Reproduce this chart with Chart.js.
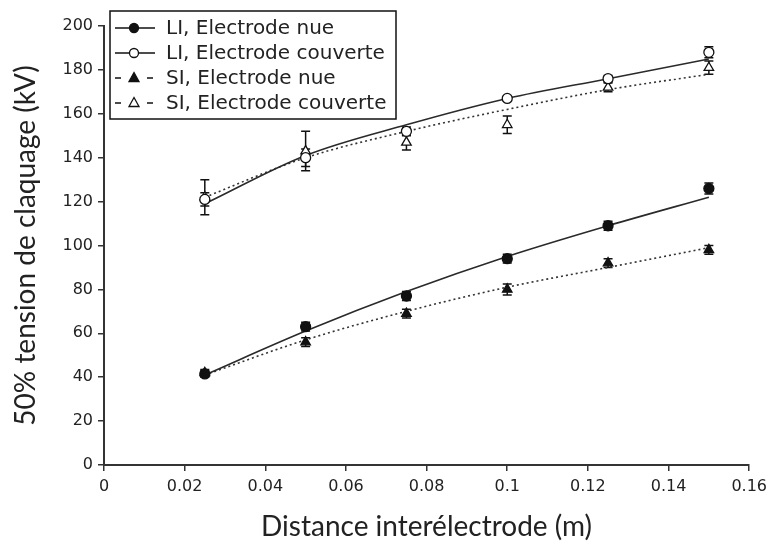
<!DOCTYPE html>
<html>
<head>
<meta charset="utf-8">
<script src="https://cdn.jsdelivr.net/npm/chart.js@4"></script>
<style>
  html, body { margin: 0; padding: 0; background: #fff; }
  #wrap { width: 773px; height: 550px; }
</style>
</head>
<body>
<div id="wrap"><canvas id="claquageChart" width="773" height="550"></canvas></div>
<script>
// Distances (m) and measured 50% breakdown voltages (kV)
const distances = [0.025, 0.05, 0.075, 0.1, 0.125, 0.15];
const liNue = [41.5, 63, 77, 94, 109, 126];
const liCouverte = [121, 140, 152, 167, 176, 188];
const siNue = [42, 56, 69, 80, 92, 98];
const siCouverte = [122, 143, 147, 155, 172, 181];

// Error bar half-heights (kV)
const liNueErr = [1.5, 2, 2, 2, 2, 2.5];
const liCouverteErr = [3, 4, 2, 1, 1.5, 2.5];
const siNueErr = [1.5, 2, 2, 2.5, 2, 2];
const siCouverteErr = [8, 9, 3.5, 4, 2, 3];

// Fitted curves at the same distances
const liNueFit = [41, 61, 79, 95, 109, 122];
const liCouverteFit = [119, 141, 155, 167, 176, 185];
const siNueFit = [41, 57, 70, 81, 90, 99];
const siCouverteFit = [122, 140, 152, 162, 171, 178];

const legendLabels = ['LI, Electrode nue', 'LI, Electrode couverte', 'SI, Electrode nue', 'SI, Electrode couverte'];

const xTicks = [0, 0.02, 0.04, 0.06, 0.08, 0.1, 0.12, 0.14, 0.16];

const ink = '#222';

function toPoints(ys, errs) {
    return distances.map((x, i) => ({ x: x, y: ys[i], err: errs ? errs[i] : 0 }));
}

function markerSet(label, ys, errs, style, filled) {
    return {
        label: label,
        data: toPoints(ys, errs),
        showLine: false,
        pointStyle: style,
        pointRadius: style === 'triangle' ? 5.5 : 5,
        pointBackgroundColor: filled ? '#111' : '#fff',
        pointBorderColor: '#111',
        pointBorderWidth: 1.3,
        order: 0
    };
}

function fitSet(ys, dashed) {
    return {
        label: '',
        data: toPoints(ys),
        showLine: true,
        pointRadius: 0,
        borderColor: dashed ? '#333' : '#2a2a2a',
        borderWidth: 1.6,
        borderDash: dashed ? [2, 3] : [],
        cubicInterpolationMode: 'monotone',
        fill: false,
        order: 1,
        isFit: true
    };
}

// Error bars drawn under the markers
const errorBars = {
    id: 'errorBars',
    beforeDatasetsDraw(chart) {
        const ctx = chart.ctx;
        const xs = chart.scales.x, ys = chart.scales.y;
        ctx.save();
        ctx.strokeStyle = '#111';
        ctx.lineWidth = 1.5;
        chart.data.datasets.forEach(ds => {
            if (ds.isFit) return;
            ds.data.forEach(p => {
                if (!p.err) return;
                const px = xs.getPixelForValue(p.x);
                const top = ys.getPixelForValue(p.y + p.err);
                const bot = ys.getPixelForValue(p.y - p.err);
                ctx.beginPath();
                ctx.moveTo(px, top); ctx.lineTo(px, bot);
                ctx.moveTo(px - 4.5, top); ctx.lineTo(px + 4.5, top);
                ctx.moveTo(px - 4.5, bot); ctx.lineTo(px + 4.5, bot);
                ctx.stroke();
            });
        });
        ctx.restore();
    }
};

// Boxed legend inside the plot, top left
const boxLegend = {
    id: 'boxLegend',
    afterDraw(chart) {
        const ctx = chart.ctx;
        const x0 = 110, y0 = 11, w = 286, h = 108;
        ctx.save();
        ctx.fillStyle = '#fff';
        ctx.fillRect(x0, y0, w, h);
        ctx.strokeStyle = '#111';
        ctx.lineWidth = 1.5;
        ctx.strokeRect(x0, y0, w, h);
        const styles = [
            { shape: 'circle', filled: true, dashed: false },
            { shape: 'circle', filled: false, dashed: false },
            { shape: 'triangle', filled: true, dashed: true },
            { shape: 'triangle', filled: false, dashed: true }
        ];
        legendLabels.forEach((label, i) => {
            const cy = y0 + 17 + i * 25;
            const st = styles[i];
            ctx.strokeStyle = '#111';
            ctx.lineWidth = 1.6;
            ctx.beginPath();
            if (st.dashed) {
                ctx.moveTo(115, cy); ctx.lineTo(121, cy);
                ctx.moveTo(147, cy); ctx.lineTo(153, cy);
            } else {
                ctx.moveTo(115, cy); ctx.lineTo(155, cy);
            }
            ctx.stroke();
            ctx.fillStyle = st.filled ? '#111' : '#fff';
            ctx.lineWidth = 1.3;
            ctx.beginPath();
            if (st.shape === 'circle') {
                ctx.arc(134, cy, 4.5, 0, Math.PI * 2);
            } else {
                ctx.moveTo(134, cy - 5.5);
                ctx.lineTo(139, cy + 3.5);
                ctx.lineTo(129, cy + 3.5);
                ctx.closePath();
            }
            ctx.fill();
            ctx.stroke();
            ctx.fillStyle = ink;
            ctx.font = '20px "DejaVu Sans"';
            ctx.textBaseline = 'middle';
            ctx.fillText(label, 166, cy + 1);
        });
        ctx.restore();
    }
};

const ctx = document.getElementById('claquageChart').getContext('2d');
const claquageChart = new Chart(ctx, {
    type: 'scatter',
    data: {
        datasets: [
            markerSet(legendLabels[0], liNue, liNueErr, 'circle', true),
            markerSet(legendLabels[1], liCouverte, liCouverteErr, 'circle', false),
            markerSet(legendLabels[2], siNue, siNueErr, 'triangle', true),
            markerSet(legendLabels[3], siCouverte, siCouverteErr, 'triangle', false),
            fitSet(liNueFit, false),
            fitSet(liCouverteFit, false),
            fitSet(siNueFit, true),
            fitSet(siCouverteFit, true)
        ]
    },
    options: {
        responsive: false,
        animation: false,
        layout: { padding: { top: 26, right: 21, left: 0, bottom: 0 } },
        plugins: {
            legend: { display: false },
            tooltip: { enabled: false }
        },
        scales: {
            x: {
                type: 'linear',
                min: 0,
                max: 0.16,
                afterBuildTicks: scale => { scale.ticks = xTicks.map(v => ({ value: v })); },
                afterFit: scale => { scale.height = 85; },
                grid: { display: true, drawOnChartArea: false, drawTicks: true, tickLength: 6, color: '#333', lineWidth: 1.5 },
                border: { display: true, color: '#333', width: 2 },
                ticks: {
                    color: ink,
                    font: { family: 'DejaVu Sans', size: 16 },
                    padding: 6,
                    maxRotation: 0,
                    callback: v => String(+v.toFixed(2))
                },
                title: {
                    display: true,
                    text: 'Distance interélectrode (m)',
                    color: ink,
                    font: { family: 'Lato', size: 28 },
                    padding: { top: 0, bottom: 6 }
                }
            },
            y: {
                min: 0,
                max: 200,
                ticks: {
                    stepSize: 20,
                    color: ink,
                    font: { family: 'DejaVu Sans', size: 16 },
                    padding: 5
                },
                afterFit: scale => { scale.width = 104; },
                grid: { display: true, drawOnChartArea: false, drawTicks: true, tickLength: 6, color: '#333', lineWidth: 1.5 },
                border: { display: true, color: '#333', width: 2 },
                title: {
                    display: true,
                    text: '50% tension de claquage (kV)',
                    color: ink,
                    font: { family: 'Lato', size: 28 },
                    padding: { top: 9, bottom: 0 }
                }
            }
        }
    },
    plugins: [errorBars, boxLegend]
});
</script>
</body>
</html>
